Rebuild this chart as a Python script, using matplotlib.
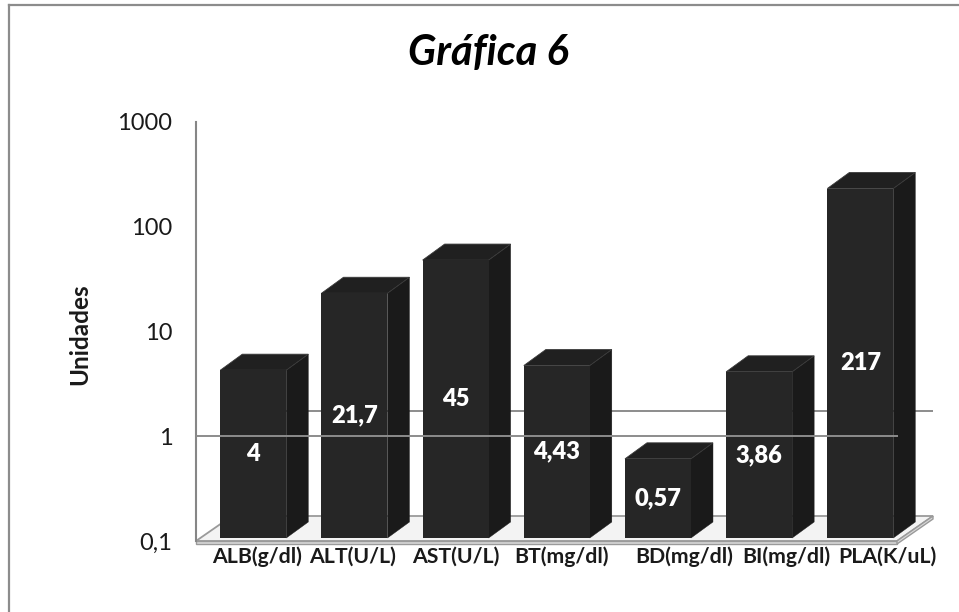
import numpy as np
import matplotlib
matplotlib.use("Agg")
import matplotlib.pyplot as plt
from matplotlib.patches import Polygon
from matplotlib.lines import Line2D
from matplotlib.transforms import ScaledTranslation

# ---- data ----
categories = ["ALB(g/dl)", "ALT(U/L)", "AST(U/L)", "BT(mg/dl)", "BD(mg/dl)", "BI(mg/dl)", "PLA(K/uL)"]
values = [4, 21.7, 45, 4.43, 0.57, 3.86, 217]
value_labels = ["4", "21,7", "45", "4,43", "0,57", "3,86", "217"]
y_ticks = [0.1, 1, 10, 100, 1000]
y_tick_labels = ["0,1", "1", "10", "100", "1000"]
title = "Gráfica 6"
y_title = "Unidades"
base = 0.1

plt.rcParams["font.family"] = ["Lato", "DejaVu Sans"]

W, H, DPI = 959, 612, 100
fig = plt.figure(figsize=(W / DPI, H / DPI), dpi=DPI)
fig.patch.set_facecolor("white")


def fy(py):
    return (H - py) / H


# plot area (pixel geometry of the front plane)
ax_left, ax_right, ax_top, ax_bottom = 196, 935, 122, 541
ax = fig.add_axes([ax_left / W, fy(ax_bottom), (ax_right - ax_left) / W, (ax_bottom - ax_top) / H])
ax.set_facecolor("none")
ax.set_yscale("log")
ax.set_ylim(0.1, 1000)

step_px = 101.17
first_px = 251.5
ax.set_xlim((ax_left - first_px) / step_px, (ax_right - first_px) / step_px)

x = np.arange(len(categories))
bar_w = 66 / step_px

# 3-D look: depth offsets in pixels
bar_dx, bar_dy = 22, 16
wall_dx, wall_dy = 36, 25
lift = 3  # columns stand slightly behind the front edge of the floor

px = fig.dpi_scale_trans
shift_bars = ax.transData + ScaledTranslation(lift * 0.6 / DPI, lift / DPI, px)
to_fig = fig.transFigure.inverted()


def disp(xv, yv, dx=0.0, dy=0.0):
    p = ax.transData.transform((xv, yv))
    return (p[0] + dx, p[1] + dy)


def poly(points, **kw):
    pts = to_fig.transform(np.array(points))
    p = Polygon(pts, closed=True, transform=fig.transFigure, clip_on=False, **kw)
    ax.add_patch(p)
    return p


# ---- floor ----
xl_data, xr_data = ax.get_xlim()[0], (897 - first_px) / step_px
f0 = disp(xl_data, base)
f1 = disp(xr_data, base)
floor = [f0, f1, (f1[0] + wall_dx, f1[1] + wall_dy), (f0[0] + wall_dx, f0[1] + wall_dy)]
poly(floor, facecolor="#f3f3f3", edgecolor="#9a9a9a", linewidth=1.3, zorder=1)
slab = [f0, f1, (f1[0], f1[1] - 3), (f0[0], f0[1] - 3)]
poly(slab, facecolor="#d9d9d9", edgecolor="#9a9a9a", linewidth=1.0, zorder=1)
slab_r = [f1, (f1[0] + wall_dx, f1[1] + wall_dy), (f1[0] + wall_dx, f1[1] + wall_dy - 3), (f1[0], f1[1] - 3)]
poly(slab_r, facecolor="#d9d9d9", edgecolor="#9a9a9a", linewidth=1.0, zorder=1)

# ---- gridline at 1 on the back wall (behind the columns) ----
grid_color = "#8c8c8c"
ax.plot([xl_data, xr_data], [1, 1], color=grid_color, linewidth=1.4,
        transform=ax.transData + ScaledTranslation(wall_dx / DPI, wall_dy / DPI, px),
        zorder=1.5, solid_capstyle="butt")

# ---- columns ----
front_c, side_c, top_c = "#262626", "#1a1a1a", "#202020"
ax.bar(x, np.array(values) - base, bottom=base, width=bar_w, color=front_c,
       transform=shift_bars, zorder=3, linewidth=0)
for xi, v in zip(x, values):
    br = np.array(shift_bars.transform((xi + bar_w / 2, base)))
    tl = np.array(shift_bars.transform((xi - bar_w / 2, v)))
    tr = np.array(shift_bars.transform((xi + bar_w / 2, v)))
    d = np.array([bar_dx, bar_dy])
    poly([br, tr, tr + d, br + d], facecolor=side_c, edgecolor=side_c, linewidth=0.3, zorder=2.9)
    poly([tl, tr, tr + d, tl + d], facecolor=top_c, edgecolor="#3a3a3a", linewidth=0.6, zorder=2.9)

# value labels at the geometric middle of each column
for xi, v, lab in zip(x, values, value_labels):
    ax.text(xi, np.sqrt(v * base), lab, transform=shift_bars, color="white",
            fontsize=17, fontweight="heavy", ha="center", va="center", zorder=6)

# ---- gridline at 1 on the front plane (over the columns) ----
ax.plot([xl_data, (898 - first_px) / step_px], [1, 1], color=grid_color, linewidth=1.4,
        zorder=5, solid_capstyle="butt")

# ---- axes styling ----
for s in ["top", "right", "bottom"]:
    ax.spines[s].set_visible(False)
ax.spines["left"].set_color("#868686")
ax.spines["left"].set_linewidth(1.5)
ax.set_yticks(y_ticks)
ax.set_yticklabels(y_tick_labels)
ax.yaxis.set_minor_locator(matplotlib.ticker.NullLocator())
ax.tick_params(axis="y", length=0, pad=17, labelsize=17, labelcolor="#1a1a1a")
ax.set_xticks([])

# category labels along the floor edge, spread apart so they do not collide
label_nudge_px = [-5, -11, -9, -5, 17, 18, 18]
for xi, name, nd in zip(x, categories, label_nudge_px):
    ax.text(xi + (bar_dx / 2 + nd) / step_px, 0.1, name,
            transform=ax.transData + ScaledTranslation(0, -16 / DPI, px),
            ha="center", va="center", fontsize=15.3, fontweight="bold",
            color="#1a1a1a", clip_on=False)

fig.text(80 / W, fy(334), y_title, rotation=90, ha="center", va="center",
         fontsize=17.5, fontweight="bold", color="#1a1a1a")
fig.text(488 / W, fy(53), title, ha="center", va="center", fontsize=30,
         fontweight="bold", fontstyle="italic", color="black")

# chart frame
frame_c = "#8c8c8c"
fig.add_artist(Line2D([9 / W, 1.0], [fy(5), fy(5)], color=frame_c, linewidth=1.6, transform=fig.transFigure))
fig.add_artist(Line2D([9 / W, 9 / W], [fy(5), 0.0], color=frame_c, linewidth=1.6, transform=fig.transFigure))

fig.savefig("out.png", dpi=DPI)
